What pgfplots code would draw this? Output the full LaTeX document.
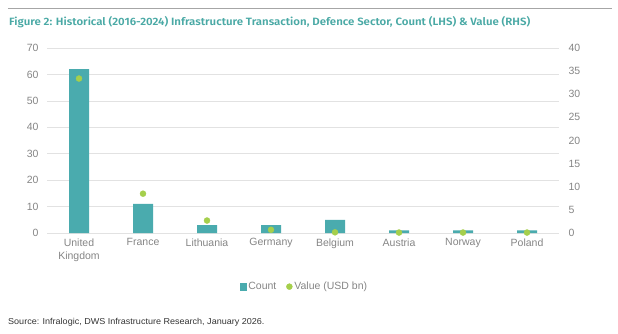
\documentclass[border=0pt]{standalone}
\usepackage{pgfplots}
\pgfplotsset{compat=1.18}
\usepackage{fontspec}
\setmainfont{Liberation Sans}
\newfontfamily\titlefont{Fira Sans}[UprightFont=* SemiBold]
\definecolor{barteal}{HTML}{4AABAE}
\definecolor{dotgreen}{HTML}{A5CF4C}
\definecolor{titleteal}{HTML}{4AA9A5}
\definecolor{tickgray}{HTML}{858585}
\definecolor{gridgray}{HTML}{E2E2E2}
\begin{document}
\begin{tikzpicture}
\path[use as bounding box] (-47pt,-100pt) rectangle (571pt,233pt);
\draw[color=gray!70, line width=0.9pt] (-39pt,225pt) -- (565pt,225pt);
\node[anchor=west, inner sep=0pt, text=titleteal, font=\titlefont\fontsize{10.6}{12}\selectfont] at (-38pt,211pt) {\scalebox{1.08}[1]{Figure 2: Historical (2016-2024) Infrastructure Transaction, Defence Sector, Count (LHS) \& Value (RHS)}};
\node[anchor=west, inner sep=0pt, text=black!80, font=\fontsize{8.6}{10}\selectfont] at (-39pt,-89pt) {\scalebox{1.05}[1]{Source: Infralogic, DWS Infrastructure Research, January 2026.}};
\begin{axis}[
  at={(0pt,0pt)}, anchor=south west,
  scale only axis, width=512pt, height=185pt,
  xmin=-0.5, xmax=7.5, ymin=0, ymax=70,
  ytick={0,10,...,70},
  xtick={0,...,7},
  xticklabels={United\\Kingdom,France,Lithuania,Germany,Belgium,Austria,Norway,Poland},
  x tick label style={align=center, text=tickgray, font=\fontsize{10.5}{13}\selectfont, yshift=-2pt},
  y tick label style={text=tickgray, font=\fontsize{10.5}{12}\selectfont},
  /pgf/number format/assume math mode=true,
  axis line style={draw=none},
  major tick length=0pt,
  ymajorgrids, grid style={gridgray, line width=0.7pt},
  axis y line*=left,
  yticklabel style={xshift=-5pt},
]
\addplot[ybar, bar width=20pt, fill=barteal, draw=none] coordinates {
(0,62) (1,11) (2,3) (3,3) (4,5) (5,1) (6,1) (7,1)};
\end{axis}
\begin{axis}[
  at={(0pt,0pt)}, anchor=south west,
  scale only axis, width=512pt, height=185pt,
  xmin=-0.5, xmax=7.5, ymin=0, ymax=40,
  ytick={0,5,...,40},
  xtick=\empty,
  axis x line=none,
  axis y line*=right,
  axis line style={draw=none},
  major tick length=0pt,
  y tick label style={text=tickgray, font=\fontsize{10.5}{12}\selectfont, xshift=6pt},
  /pgf/number format/assume math mode=true,
  legend style={at={(0.503,-0.29)}, anchor=center, draw=none, fill=none, legend columns=2,
    font=\fontsize{10.5}{12}\selectfont, text=tickgray,
    /tikz/every even column/.append style={column sep=8pt}},
  legend cell align=left,
]
\addlegendimage{only marks, mark=square*, mark size=3.2pt, color=barteal}
\addlegendentry{Count}
\addplot[only marks, color=dotgreen, mark=*, mark size=3pt, mark options={fill=dotgreen, draw=dotgreen}] coordinates {
(0,33.4) (1,8.5) (2,2.7) (3,0.7) (4,0.15) (5,0.1) (6,0.1) (7,0.1)};
\addlegendentry{Value (USD bn)}
\end{axis}
\end{tikzpicture}
\end{document}
